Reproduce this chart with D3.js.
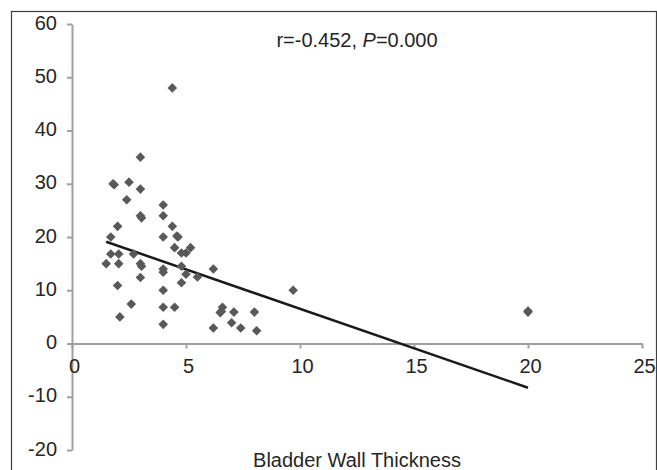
<!DOCTYPE html>
<html>
<head>
<meta charset="utf-8">
<script src="https://cdn.jsdelivr.net/npm/d3@7"></script>
<style>
  body { margin: 0; background: #fff; }
  text { font-family: "Liberation Sans", Arial, sans-serif; }
</style>
</head>
<body>
<script>
// data
const thickness = [4.4, 3.0, 1.8, 1.85, 2.5, 3.0, 2.4, 3.0, 3.05, 4.0, 4.0, 2.0, 4.4, 1.7, 4.0,
    4.6, 4.65, 4.5, 5.2, 4.8, 5.0, 1.7, 2.05, 2.7, 1.5, 2.05, 3.0, 3.05, 4.0, 4.0,
    4.8, 5.0, 5.5, 6.2, 3.0, 4.8, 2.0, 4.0, 2.6, 4.0, 4.5, 2.1, 4.0, 6.6, 6.55, 6.5,
    7.1, 8.0, 6.2, 7.0, 7.4, 8.1, 9.7, 20, 20];
const outcome = [48, 35, 30, 29.8, 30.3, 29, 27, 24, 23.6, 26, 24, 22, 22, 20, 20,
    20.2, 20, 18, 18, 17, 17, 16.8, 16.8, 16.8, 15, 15, 15, 14.5, 14, 13.4,
    14.5, 13, 12.5, 14, 12.4, 11.4, 10.9, 10, 7.4, 6.8, 6.8, 5, 3.6, 6.8, 6.0, 5.8,
    5.9, 5.9, 2.9, 3.9, 2.9, 2.4, 10, 5.9, 6.1];
const trendX = [1.5, 20];
const trendY = [19.1, -8.3];
const xTicks = [0, 5, 10, 15, 20, 25];
const yTicks = [-20, -10, 0, 10, 20, 30, 40, 50, 60];
const statText = ["r=-0.452, ", "P", "=0.000"];
const xTitle = "Bladder Wall Thickness";

const W = 657, H = 470;
const margin = { top: 24, right: 15, bottom: 20, left: 72 };
const width = 642 - margin.left;
const height = 450 - margin.top;

const root = d3.select("body").append("svg")
    .attr("width", W)
    .attr("height", H);

// outer frame
root.append("rect")
    .attr("x", 11.5).attr("y", 11.5)
    .attr("width", 645).attr("height", 470)
    .attr("fill", "none")
    .attr("stroke", "#404040")
    .attr("stroke-width", 1.2);

const svg = root.append("g")
    .attr("transform", "translate(" + margin.left + "," + margin.top + ")");

const xScale = d3.scaleLinear().domain([0, 25]).range([0, width]);
const yScale = d3.scaleLinear().domain([-20, 60]).range([height, 0]);

const axisColor = "#a0a0a0";
const plain = d => String(d); // hyphen minus like the original

// y axis
const yAxis = d3.axisLeft(yScale).tickValues(yTicks).tickFormat(plain)
    .tickSize(5).tickPadding(10).tickSizeOuter(0);
const yg = svg.append("g").call(yAxis);
// x axis sits on y = 0
const xAxis = d3.axisBottom(xScale).tickValues(xTicks).tickFormat(plain)
    .tickSize(5).tickPadding(10).tickSizeOuter(0);
const xg = svg.append("g")
    .attr("transform", "translate(0," + yScale(0) + ")")
    .call(xAxis);

[xg, yg].forEach(g => {
    g.select(".domain").attr("stroke", axisColor).attr("stroke-width", 2);
    g.selectAll(".tick line").attr("stroke", axisColor).attr("stroke-width", 2);
    g.selectAll(".tick text")
        .attr("fill", "#262626")
        .attr("font-size", "20px")
        .attr("font-family", "Liberation Sans, Arial, sans-serif");
});
xg.selectAll(".tick text").attr("dx", 2);
yg.selectAll(".tick text").attr("dy", "0.25em");

// trend line
const line = d3.line()
    .x(d => xScale(d[0]))
    .y(d => yScale(d[1]));
svg.append("path")
    .datum(d3.zip(trendX, trendY))
    .attr("d", line)
    .attr("fill", "none")
    .attr("stroke", "#1a1a1a")
    .attr("stroke-width", 2.5);

// points (diamonds)
const pts = d3.zip(thickness, outcome);
svg.selectAll(".pt")
    .data(pts)
    .enter()
    .append("path")
    .attr("class", "pt")
    .attr("d", "M0,-4.8L4.8,0L0,4.8L-4.8,0Z")
    .attr("transform", d => "translate(" + xScale(d[0]) + "," + yScale(d[1]) + ")")
    .attr("fill", "#595959");

// stat label
const st = root.append("text")
    .attr("x", 357)
    .attr("y", 47)
    .attr("text-anchor", "middle")
    .attr("font-size", "20px")
    .attr("fill", "#262626");
st.append("tspan").text(statText[0]);
st.append("tspan").attr("font-style", "italic").text(statText[1]);
st.append("tspan").text(statText[2]);

// x title
root.append("text")
    .attr("x", 357)
    .attr("y", 467)
    .attr("text-anchor", "middle")
    .attr("font-size", "20px")
    .attr("fill", "#262626")
    .text(xTitle);
</script>
</body>
</html>
